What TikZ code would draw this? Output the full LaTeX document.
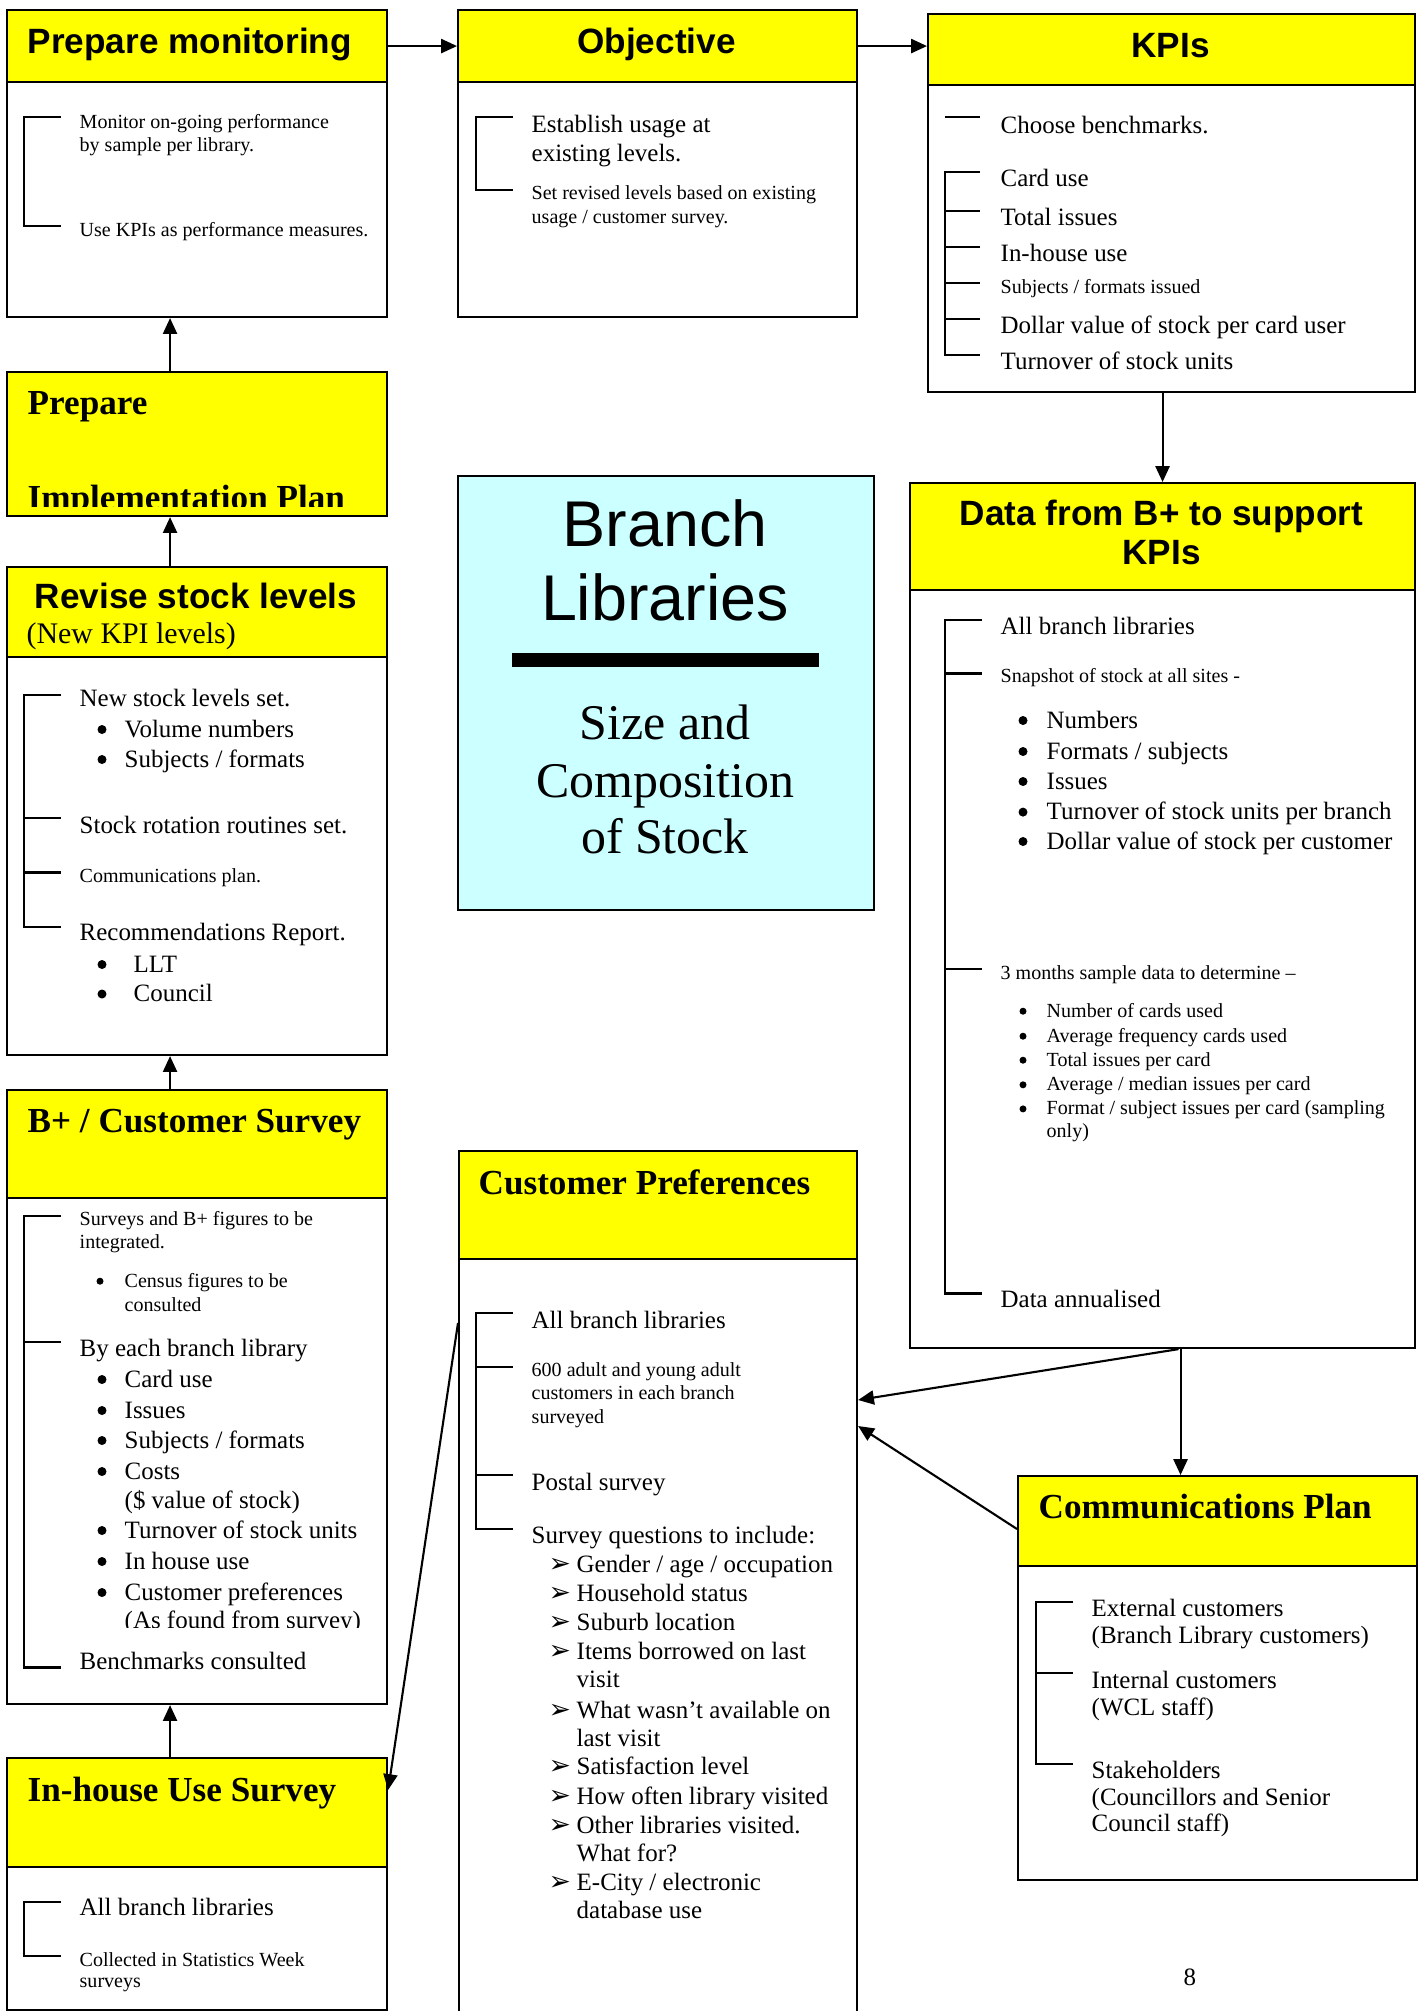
\documentclass[tikz,border=0pt]{standalone}
\usepackage{fontspec}
\setmainfont{Liberation Serif}
\newfontfamily\arialfont{Liberation Sans}
\newfontfamily\dingfont{DejaVu Sans}
\usetikzlibrary{arrows.meta}
\definecolor{headyellow}{HTML}{FFFF00}
\definecolor{paleCyan}{HTML}{CCFFFF}
\def\bigdot(#1){\fill (#1) ++(0,-0.075) circle (0.045);}
\def\smalldot(#1){\fill (#1) ++(0,-0.058) circle (0.035);}
\tikzset{
	panel/.style={draw, line width=0.6pt, fill=white, anchor=north west, inner sep=0pt},
	headbar/.style={panel, fill=headyellow},
	txt/.style={anchor=base west, inner sep=0pt, font=\fontsize{7.1}{8.5}\selectfont},
	smalltxt/.style={txt, font=\fontsize{5.7}{6.8}\selectfont},
	arrowdot/.style={txt, font=\dingfont\fontsize{7.6}{9}\selectfont},
	sanshead/.style={anchor=base, inner sep=0pt, font=\arialfont\bfseries\fontsize{10}{12}\selectfont},
	serifhead/.style={anchor=base west, inner sep=0pt, font=\bfseries\fontsize{10}{12}\selectfont},
	flowarrow/.style={line width=0.6pt, -{Triangle[length=4.5pt, width=4pt]}},
	bracket/.style={line width=0.6pt}
}

\begin{document}
\begin{tikzpicture}[x=1cm, y=-1cm]
			%%%%% START %%%%%
			\useasboundingbox (0,0) rectangle (14.24,20.11);
			
			% panels
			\node[panel, minimum width=3.80cm, minimum height=3.07cm] (monitor) at (0.06,0.09) {};
			\node[headbar, minimum width=3.80cm, minimum height=0.72cm] (monitorhd) at (0.06,0.09) {};
			\node[panel, minimum width=3.99cm, minimum height=3.07cm] (objective) at (4.57,0.09) {};
			\node[headbar, minimum width=3.99cm, minimum height=0.72cm] (objectivehd) at (4.57,0.09) {};
			\node[panel, minimum width=4.87cm, minimum height=3.78cm] (kpis) at (9.27,0.13) {};
			\node[headbar, minimum width=4.87cm, minimum height=0.71cm] (kpishd) at (9.27,0.13) {};
			\node[headbar, minimum width=3.80cm, minimum height=1.44cm] (prepimpl) at (0.06,3.71) {};
			\node[panel, minimum width=3.80cm, minimum height=4.88cm] (revise) at (0.06,5.66) {};
			\node[headbar, minimum width=3.80cm, minimum height=0.90cm] (revisehd) at (0.06,5.66) {};
			\node[panel, fill=paleCyan, minimum width=4.16cm, minimum height=4.34cm] (centre) at (4.57,4.75) {};
			\node[panel, minimum width=5.05cm, minimum height=8.65cm] (data) at (9.09,4.82) {};
			\node[headbar, minimum width=5.05cm, minimum height=1.07cm] (datahd) at (9.09,4.82) {};
			\node[panel, minimum width=3.80cm, minimum height=6.14cm] (bsurvey) at (0.06,10.89) {};
			\node[headbar, minimum width=3.80cm, minimum height=1.08cm] (bsurveyhd) at (0.06,10.89) {};
			\node[panel, minimum width=3.98cm, minimum height=8.90cm] (cp) at (4.58,11.50) {};
			\node[headbar, minimum width=3.98cm, minimum height=1.08cm] (cphd) at (4.58,11.50) {};
			\node[panel, minimum width=3.80cm, minimum height=2.52cm] (inhouse) at (0.06,17.57) {};
			\node[headbar, minimum width=3.80cm, minimum height=1.09cm] (inhousehd) at (0.06,17.57) {};
			\node[panel, minimum width=3.99cm, minimum height=4.04cm] (comm) at (10.17,14.75) {};
			\node[headbar, minimum width=3.99cm, minimum height=0.90cm] (commhd) at (10.17,14.75) {};
			
			% connectors
			\draw[flowarrow] (monitorhd.east) -- (objectivehd.west);
			\draw[flowarrow] (objectivehd.east) -- (objectivehd.east -| kpishd.west);
			\draw[flowarrow] (data.north |- kpis.south) -- (data.north);
			\draw[flowarrow] ([xshift=-0.27cm]prepimpl.north) -- ([xshift=-0.27cm]monitor.south);
			\draw[flowarrow] ([xshift=-0.27cm]revise.north) -- ([xshift=-0.27cm]prepimpl.south);
			\draw[flowarrow] ([xshift=-0.27cm]bsurvey.north) -- ([xshift=-0.27cm]revise.south);
			\draw[flowarrow] ([xshift=-0.27cm]inhouse.north) -- ([xshift=-0.27cm]bsurvey.south);
			\draw[flowarrow] ([xshift=0.18cm]data.south) -- ([xshift=0.18cm]data.south |- comm.north);
			\draw[flowarrow] ([xshift=0.16cm]data.south) -- ([yshift=-2.50cm]cp.north east);
			\draw[flowarrow] ([yshift=-0.54cm]comm.north west) -- ([yshift=-2.76cm]cp.north east);
			\draw[flowarrow] ([yshift=-1.73cm]cp.north west) -- ([yshift=-0.33cm]inhouse.north east);
			
			% Prepare monitoring
			\node[sanshead, anchor=base west] (monitortitle) at (0.27,0.53) {Prepare monitoring};
			\draw[bracket] (0.61,1.17) -- (0.24,1.17) -- (0.24,2.26) -- (0.61,2.26);
			\node[smalltxt] (mon1) at (0.79,1.28) {Monitor on-going performance};
			\node[smalltxt] (mon2) at (0.79,1.51) {by sample per library.};
			\node[smalltxt] (mon3) at (0.79,2.36) {Use KPIs as performance measures.};
			
			% Objective
			\node[sanshead] (objtitle) at (6.565,0.53) {Objective};
			\draw[bracket] (5.13,1.17) -- (4.76,1.17) -- (4.76,1.90) -- (5.13,1.90);
			\node[txt] (obj1) at (5.31,1.32) {Establish usage at};
			\node[txt] (obj2) at (5.31,1.61) {existing levels.};
			\node[smalltxt] (obj3) at (5.31,1.99) {Set revised levels based on existing};
			\node[smalltxt] (obj4) at (5.31,2.23) {usage / customer survey.};
			
			% KPIs
			\node[sanshead] (kpititle) at (11.705,0.57) {KPIs};
			\draw[bracket] (9.45,1.17) -- (9.80,1.17);
			\draw[bracket] (9.80,1.72) -- (9.45,1.72) -- (9.45,3.55) -- (9.80,3.55);
			\draw[bracket] (9.45,2.11) -- (9.80,2.11) (9.45,2.47) -- (9.80,2.47) (9.45,2.83) -- (9.80,2.83) (9.45,3.19) -- (9.80,3.19);
			\node[txt] (kpi1) at (10.00,1.33) {Choose benchmarks.};
			\node[txt] (kpi2) at (10.00,1.86) {Card use};
			\node[txt] (kpi3) at (10.00,2.25) {Total issues};
			\node[txt] (kpi4) at (10.00,2.61) {In-house use};
			\node[smalltxt] (kpi5) at (10.00,2.93) {Subjects / formats issued};
			\node[txt] (kpi6) at (10.00,3.33) {Dollar value of stock per card user};
			\node[txt] (kpi7) at (10.00,3.69) {Turnover of stock units};
			
			% Prepare Implementation Plan
			\node[serifhead] (impltitle) at (0.27,4.14) {Prepare};
			\begin{scope}
				\clip (0.06,3.71) rectangle (3.86,5.06);
				\node[serifhead] (impltitle2) at (0.27,5.095) {Implementation Plan};
			\end{scope}
			
			% Revise stock levels
			\node[sanshead] (revtitle) at (1.96,6.08) {Revise stock levels};
			\node[txt, font=\fontsize{8.5}{10}\selectfont] (revsub) at (0.26,6.435) {(New KPI levels)};
			\draw[bracket] (0.61,6.95) -- (0.24,6.95) -- (0.24,9.27) -- (0.61,9.27);
			\draw[bracket] (0.24,8.18) -- (0.61,8.18) (0.24,8.725) -- (0.61,8.725);
			\node[txt] (rev1) at (0.79,7.06) {New stock levels set.};
			\bigdot(1.02,7.37)
			\node[txt] (rev2) at (1.24,7.37) {Volume numbers};
			\bigdot(1.02,7.67)
			\node[txt] (rev3) at (1.24,7.67) {Subjects / formats};
			\node[txt] (rev4) at (0.79,8.33) {Stock rotation routines set.};
			\node[smalltxt] (rev5) at (0.79,8.82) {Communications plan.};
			\node[txt] (rev6) at (0.79,9.40) {Recommendations Report.};
			\bigdot(1.02,9.72)
			\node[txt] (rev7) at (1.33,9.72) {LLT};
			\bigdot(1.02,10.015)
			\node[txt] (rev8) at (1.33,10.015) {Council};
			
			% Branch Libraries
			\node[anchor=base, inner sep=0pt, font=\arialfont\fontsize{18.4}{22}\selectfont] (brtitle1) at (6.65,5.46) {Branch};
			\node[anchor=base, inner sep=0pt, font=\arialfont\fontsize{18.4}{22}\selectfont] (brtitle2) at (6.65,6.20) {Libraries};
			\fill (5.12,6.53) rectangle (8.19,6.67);
			\node[anchor=base, inner sep=0pt, font=\fontsize{14.2}{17}\selectfont] (brsub1) at (6.65,7.39) {Size and};
			\node[anchor=base, inner sep=0pt, font=\fontsize{14.2}{17}\selectfont] (brsub2) at (6.65,7.97) {Composition};
			\node[anchor=base, inner sep=0pt, font=\fontsize{14.2}{17}\selectfont] (brsub3) at (6.65,8.53) {of Stock};
			
			% Data from B+
			\node[sanshead] (datatitle1) at (11.615,5.256) {Data from B+ to support};
			\node[sanshead] (datatitle2) at (11.615,5.646) {KPIs};
			\draw[bracket] (9.82,6.20) -- (9.45,6.20) -- (9.45,12.935) -- (9.82,12.935);
			\draw[bracket] (9.45,6.735) -- (9.82,6.735) (9.45,9.686) -- (9.82,9.686);
			\node[txt] (dat1) at (10.00,6.345) {All branch libraries};
			\node[smalltxt] (dat2) at (10.00,6.82) {Snapshot of stock at all sites -};
			\bigdot(10.23,7.28)
			\node[txt] (dat3) at (10.46,7.28) {Numbers};
			\bigdot(10.23,7.59)
			\node[txt] (dat4) at (10.46,7.59) {Formats / subjects};
			\bigdot(10.23,7.89)
			\node[txt] (dat5) at (10.46,7.89) {Issues};
			\bigdot(10.23,8.196)
			\node[txt] (dat6) at (10.46,8.196) {Turnover of stock units per branch};
			\bigdot(10.23,8.49)
			\node[txt] (dat7) at (10.46,8.49) {Dollar value of stock per customer};
			\node[smalltxt] (dat8) at (10.00,9.79) {3 months sample data to determine –};
			\smalldot(10.23,10.17)
			\node[smalltxt] (dat9) at (10.46,10.17) {Number of cards used};
			\smalldot(10.23,10.42)
			\node[smalltxt] (dat10) at (10.46,10.42) {Average frequency cards used};
			\smalldot(10.23,10.66)
			\node[smalltxt] (dat11) at (10.46,10.66) {Total issues per card};
			\smalldot(10.23,10.906)
			\node[smalltxt] (dat12) at (10.46,10.906) {Average / median issues per card};
			\smalldot(10.23,11.147)
			\node[smalltxt] (dat13) at (10.46,11.147) {Format / subject issues per card (sampling};
			\node[smalltxt] (dat14) at (10.46,11.376) {only)};
			\node[txt] (dat15) at (10.00,13.07) {Data annualised};
			
			% B+ / Customer Survey
			\node[serifhead] (bstitle) at (0.27,11.32) {B+ / Customer Survey};
			\draw[bracket] (0.61,12.156) -- (0.24,12.156) -- (0.24,16.675) -- (0.61,16.675);
			\draw[bracket] (0.24,13.42) -- (0.61,13.42);
			\node[smalltxt] (bs1) at (0.79,12.25) {Surveys and B+ figures to be};
			\node[smalltxt] (bs2) at (0.79,12.48) {integrated.};
			\smalldot(1.00,12.87)
			\node[smalltxt] (bs3) at (1.24,12.87) {Census figures to be};
			\node[smalltxt] (bs4) at (1.24,13.11) {consulted};
			\node[txt] (bs5) at (0.79,13.56) {By each branch library};
			\bigdot(1.02,13.87)
			\node[txt] (bs6) at (1.24,13.87) {Card use};
			\bigdot(1.02,14.18)
			\node[txt] (bs7) at (1.24,14.18) {Issues};
			\bigdot(1.02,14.48)
			\node[txt] (bs8) at (1.24,14.48) {Subjects / formats};
			\bigdot(1.02,14.79)
			\node[txt] (bs9) at (1.24,14.79) {Costs};
			\node[txt] (bs10) at (1.24,15.08) {(\$ value of stock)};
			\bigdot(1.02,15.38)
			\node[txt] (bs11) at (1.24,15.38) {Turnover of stock units};
			\bigdot(1.02,15.69)
			\node[txt] (bs12) at (1.24,15.69) {In house use};
			\bigdot(1.02,16.00)
			\node[txt] (bs13) at (1.24,16.00) {Customer preferences};
			\begin{scope}
				\clip (0.06,15.90) rectangle (3.86,16.27);
				\node[txt] (bs14) at (1.24,16.28) {(As found from survey)};
			\end{scope}
			\node[txt] (bs15) at (0.79,16.69) {Benchmarks consulted};
			
			% In-house Use Survey
			\node[serifhead] (ihtitle) at (0.27,18.01) {In-house Use Survey};
			\draw[bracket] (0.61,19.02) -- (0.24,19.02) -- (0.24,19.56) -- (0.61,19.56);
			\node[txt] (ih1) at (0.79,19.15) {All branch libraries};
			\node[smalltxt] (ih2) at (0.79,19.66) {Collected in Statistics Week};
			\node[smalltxt] (ih3) at (0.79,19.87) {surveys};
			
			% Customer Preferences
			\node[serifhead] (cptitle) at (4.78,11.94) {Customer Preferences};
			\draw[bracket] (5.13,13.13) -- (4.76,13.13) -- (4.76,15.29) -- (5.13,15.29);
			\draw[bracket] (4.76,13.67) -- (5.13,13.67) (4.76,14.75) -- (5.13,14.75);
			\node[txt] (cp1) at (5.31,13.28) {All branch libraries};
			\node[smalltxt] (cp2) at (5.31,13.76) {600 adult and young adult};
			\node[smalltxt] (cp3) at (5.31,13.99) {customers in each branch};
			\node[smalltxt] (cp4) at (5.31,14.23) {surveyed};
			\node[txt] (cp5) at (5.31,14.90) {Postal survey};
			\node[txt] (cp6) at (5.31,15.43) {Survey questions to include:};
			\node[arrowdot] (cpa1) at (5.48,15.72) {➢};
			\node[txt] (cp7) at (5.76,15.72) {Gender / age / occupation};
			\node[arrowdot] (cpa2) at (5.48,16.01) {➢};
			\node[txt] (cp8) at (5.76,16.01) {Household status};
			\node[arrowdot] (cpa3) at (5.48,16.30) {➢};
			\node[txt] (cp9) at (5.76,16.30) {Suburb location};
			\node[arrowdot] (cpa4) at (5.48,16.59) {➢};
			\node[txt] (cp10) at (5.76,16.59) {Items borrowed on last};
			\node[txt] (cp11) at (5.76,16.87) {visit};
			\node[arrowdot] (cpa5) at (5.48,17.18) {➢};
			\node[txt] (cp12) at (5.76,17.18) {What wasn’t available on};
			\node[txt] (cp13) at (5.76,17.46) {last visit};
			\node[arrowdot] (cpa6) at (5.48,17.74) {➢};
			\node[txt] (cp14) at (5.76,17.74) {Satisfaction level};
			\node[arrowdot] (cpa7) at (5.48,18.04) {➢};
			\node[txt] (cp15) at (5.76,18.04) {How often library visited};
			\node[arrowdot] (cpa8) at (5.48,18.33) {➢};
			\node[txt] (cp16) at (5.76,18.33) {Other libraries visited.};
			\node[txt] (cp17) at (5.76,18.61) {What for?};
			\node[arrowdot] (cpa9) at (5.48,18.90) {➢};
			\node[txt] (cp18) at (5.76,18.90) {E-City / electronic};
			\node[txt] (cp19) at (5.76,19.18) {database use};
			
			% Communications Plan
			\node[serifhead] (comtitle) at (10.38,15.18) {Communications Plan};
			\draw[bracket] (10.73,16.02) -- (10.36,16.02) -- (10.36,17.64) -- (10.73,17.64);
			\draw[bracket] (10.36,16.73) -- (10.73,16.73);
			\node[txt] (com1) at (10.91,16.16) {External customers};
			\node[txt] (com2) at (10.91,16.43) {(Branch Library customers)};
			\node[txt] (com3) at (10.91,16.88) {Internal customers};
			\node[txt] (com4) at (10.91,17.15) {(WCL staff)};
			\node[txt] (com5) at (10.91,17.78) {Stakeholders};
			\node[txt] (com6) at (10.91,18.05) {(Councillors and Senior};
			\node[txt] (com7) at (10.91,18.31) {Council staff)};
			
			\node[txt] (pagenum) at (11.83,19.85) {8};
			
			%%%%% END %%%%%
		\end{tikzpicture}
\end{document}
